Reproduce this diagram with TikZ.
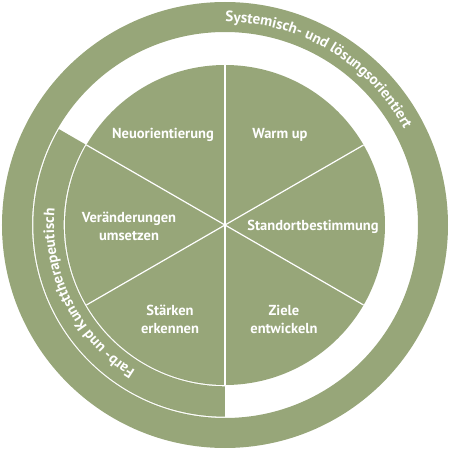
\documentclass[tikz,border=0pt]{standalone}
\usepackage{fontspec}
\setmainfont{PT Sans}
\usetikzlibrary{decorations.text}
\definecolor{KreisGruen}{HTML}{97A679}

\tikzset{
  segtext/.style={text=white, font=\bfseries\fontsize{14.5}{18}\selectfont, align=center},
  trenner/.style={white, line width=1.2pt}
}

\begin{document}
\begin{tikzpicture}[x=1pt,y=1pt]
  \useasboundingbox (-225,-225) rectangle (225,225);
  % aeusserer Ring
  \fill[KreisGruen, even odd rule] (0,0) circle[radius=223] (0,0) circle[radius=193];
  % linkes Band
  \fill[KreisGruen] (150:161.3) arc[start angle=150, end angle=270, radius=161.3]
    -- (270:191.7) arc[start angle=270, end angle=150, radius=191.7] -- cycle;
  % Kreis mit Segmenten
  \fill[KreisGruen] (0,0) circle[radius=160];
  \foreach \a in {30,90,...,330}
    \draw[trenner] (0,0) -- (\a:160);

  \node[segtext] (neu) at (-62,90) {Neuorientierung};
  \node[segtext] (warm) at (55,90) {Warm up};
  \node[segtext] (veraend) at (-96,-1) {Veränderungen\\umsetzen};
  \node[segtext] (stand) at (88,-2) {Standortbestimmung};
  \node[segtext] (staerken) at (-55,-94) {Stärken\\erkennen};
  \node[segtext] (ziele) at (59,-94) {Ziele\\entwickeln};

  % Beschriftung der Ringe
  \path[decorate, decoration={text along path, text align=center,
      text format delimiters={|}{|},
      text={|\color{white}\bfseries\fontsize{15}{15}\selectfont|Systemisch- und lösungsorientiert}}]
    (110:203) arc[start angle=110, end angle=8, radius=203];
  \path[decorate, decoration={text along path, text align=center,
      text format delimiters={|}{|},
      text={|\color{white}\bfseries\fontsize{15}{15}\selectfont|Farb- und Kunsttherapeutisch}}]
    (257:171) arc[start angle=257, end angle=156, radius=171];
\end{tikzpicture}
\end{document}
